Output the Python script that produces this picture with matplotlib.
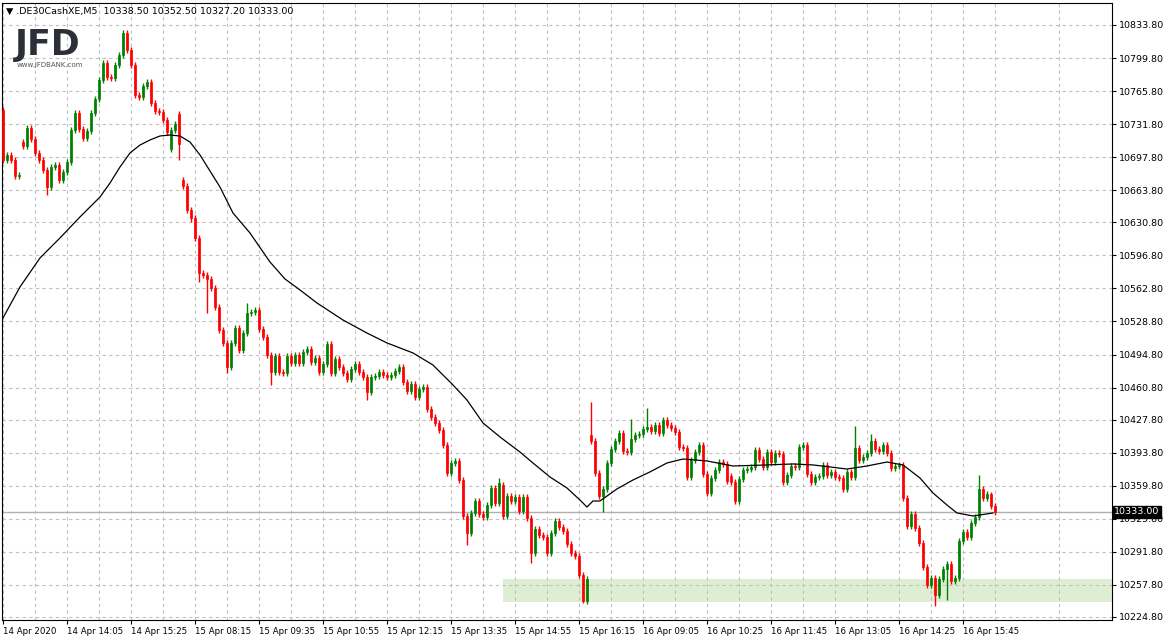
import matplotlib
matplotlib.use("Agg")
import matplotlib.pyplot as plt
from matplotlib.patches import Rectangle

# DE30 M5 closes, one per bar (open = previous close unless listed in gap_opens)
closes = [
    10694.9, 10700.1, 10694.9, 10678.4, 10679.5, 10709.3, 10727.8, 10716.5, 10702.1, 10694.9,
    10684.6, 10667.1, 10687.7, 10689.8, 10674.3, 10682.6, 10692.9, 10725.8, 10743.3, 10726.8,
    10717.5, 10724.7, 10743.3, 10757.7, 10777.2, 10794.7, 10780.3, 10779.3, 10792.6, 10802.9,
    10825.6, 10808.1, 10792.6, 10761.8, 10759.7, 10771.0, 10775.1, 10753.5, 10745.3, 10744.3,
    10736.1, 10723.7, 10725.8, 10731.9, 10711.4, 10668.2, 10643.5, 10635.2, 10614.7, 10578.7,
    10576.6, 10572.5, 10563.2, 10543.7, 10520.0, 10506.7, 10482.0, 10506.7, 10522.1, 10499.5,
    10516.9, 10537.5, 10538.5, 10540.6, 10521.1, 10512.8, 10494.3, 10476.8, 10493.3, 10476.8,
    10476.0, 10493.3, 10486.1, 10494.3, 10486.1, 10497.4, 10500.5, 10487.1, 10491.2, 10476.8,
    10485.1, 10505.6, 10475.8, 10490.2, 10482.0, 10475.8, 10469.6, 10479.9, 10485.1, 10476.8,
    10471.7, 10456.2, 10471.7, 10472.5, 10476.8, 10473.7, 10471.7, 10473.7, 10477.9, 10482.0,
    10466.5, 10457.3, 10464.5, 10451.1, 10459.3, 10461.4, 10438.8, 10430.5, 10424.4, 10417.2,
    10401.7, 10372.9, 10383.2, 10385.3, 10365.7, 10328.7, 10311.2, 10331.8, 10344.1, 10330.7,
    10327.7, 10340.0, 10357.5, 10342.1, 10362.6, 10328.7, 10349.3, 10344.1, 10348.2, 10333.8,
    10348.2, 10326.6, 10290.6, 10315.3, 10309.1, 10307.1, 10290.6, 10311.2, 10323.5, 10317.4,
    10313.3, 10299.9, 10290.6, 10287.5, 10268.0, 10241.3, 10263.9, 10405.8, 10372.9, 10349.3,
    10356.5, 10383.2, 10397.6, 10405.8, 10414.1, 10395.6, 10394.5, 10407.9, 10412.0, 10413.0,
    10418.2, 10420.2, 10416.1, 10422.3, 10414.1, 10427.4, 10422.3, 10419.2, 10415.1, 10399.7,
    10398.7, 10368.8, 10386.3, 10394.5, 10401.7, 10371.9, 10352.4, 10367.8, 10376.0, 10384.2,
    10382.2, 10364.7, 10363.7, 10344.1, 10366.8, 10376.0, 10377.0, 10379.1, 10396.6, 10387.3,
    10379.1, 10394.5, 10384.2, 10393.5, 10392.5, 10363.7, 10370.9, 10380.1, 10379.1, 10399.7,
    10401.7, 10371.9, 10363.7, 10368.8, 10369.8, 10381.2, 10370.9, 10374.0, 10368.8, 10367.8,
    10356.5, 10374.0, 10368.8, 10398.6, 10386.3, 10389.4, 10393.5, 10405.8, 10397.6, 10395.6,
    10401.7, 10393.5, 10378.1, 10380.1, 10381.2, 10347.2, 10318.4, 10330.7, 10316.3, 10300.9,
    10276.2, 10257.7, 10264.9, 10247.4, 10263.9, 10274.2, 10279.3, 10261.8, 10264.9, 10303.0,
    10312.2, 10307.1, 10321.5, 10327.7, 10356.5, 10347.2, 10351.3, 10339.0, 10333.0,
]
gap_opens = {0: 10746.3, 5: 10713.4, 42: 10706.2, 44: 10742.2, 45: 10674.3,
             125: 10360.6, 147: 10412.0, 182: 10370.0}
wick_highs = {61: 10548.0, 124: 10368.0, 147: 10446.0, 157: 10428.5, 161: 10440.0,
              165: 10430.5, 213: 10421.0, 217: 10413.0, 244: 10371.0, 247: 10353.5}
wick_lows = {11: 10659.0, 44: 10695.0, 47: 10631.0, 49: 10569.0, 51: 10538.0, 56: 10476.0,
             67: 10463.0, 91: 10448.0, 116: 10299.0, 132: 10280.0, 145: 10239.0,
             150: 10333.0, 233: 10236.0, 236: 10242.0}
wick = 3.0

# moving average
ma_bars = [0, 4.25, 9.25, 14.25, 19.25, 24.25, 26.75, 29.25, 31.75, 34.25, 36.75, 39.25,
           41.75, 44.25, 46.75, 49.25, 54.25, 57.5, 61.75, 66.75, 70.5, 74.25, 78.5, 85,
           91, 96, 102.5, 107.5, 112.5, 116, 120, 124.25, 129.25, 132.5, 136.75, 141,
           144.25, 146, 147.5, 149.25, 153.5, 157.5, 161.75, 166, 170, 176, 182.5, 191,
           197.5, 202.5, 211, 216, 221, 225, 229.25, 232.5, 236, 238.5, 242.5, 244.25, 247.5]
ma_values = [10532.4, 10564.3, 10594.1, 10614.7, 10636.3, 10656.8, 10671.2, 10687.7, 10702.1,
             10710.3, 10715.5, 10719.6, 10720.6, 10719.6, 10713.4, 10700.1, 10667.1, 10640.4,
             10619.8, 10590.0, 10572.5, 10561.2, 10547.8, 10530.3, 10516.9, 10506.7, 10496.4,
             10484.0, 10463.5, 10448.0, 10424.4, 10410.0, 10394.5, 10383.2, 10368.8, 10357.5,
             10345.1, 10337.9, 10344.1, 10344.1, 10356.5, 10365.7, 10374.0, 10383.2, 10387.3,
             10385.3, 10380.1, 10381.2, 10382.2, 10381.2, 10377.0, 10380.1, 10384.2, 10381.2,
             10367.8, 10352.4, 10340.0, 10331.8, 10328.7, 10329.7, 10331.8]

y_ticks = [10224.8, 10257.8, 10291.8, 10325.8, 10359.8, 10393.8, 10427.8, 10460.8, 10494.8,
           10528.8, 10562.8, 10596.8, 10630.8, 10663.8, 10697.8, 10731.8, 10765.8, 10799.8,
           10833.8]
x_labels = ["14 Apr 2020", "14 Apr 14:05", "14 Apr 15:25", "15 Apr 08:15", "15 Apr 09:35",
            "15 Apr 10:55", "15 Apr 12:15", "15 Apr 13:35", "15 Apr 14:55", "15 Apr 16:15",
            "16 Apr 09:05", "16 Apr 10:25", "16 Apr 11:45", "16 Apr 13:05", "16 Apr 14:25",
            "16 Apr 15:45"]
last_price = 10333.0
zone_low, zone_high = 10240.2, 10263.9
zone_start = 125

fig = plt.figure(figsize=(11.68, 6.41), dpi=100)
ax = fig.add_axes([0.0017, 0.0328, 0.9503, 0.9625])
ax.set_xlim(-0.25, 277.25)
ax.set_ylim(10221.7, 10856.4)

for i, c in enumerate(closes):
    o = gap_opens.get(i, closes[i - 1] if i > 0 else c)
    col = "#008000" if c >= o else "#ff0000"
    hi = wick_highs.get(i, max(o, c) + wick)
    lo = wick_lows.get(i, min(o, c) - wick)
    ax.vlines(i, lo, hi, color=col, lw=1, zorder=3)
    ax.add_patch(Rectangle((i - 0.35, min(o, c)), 0.7, max(abs(c - o), 0.8),
                           facecolor=col, edgecolor=col, lw=0.5, zorder=4))

ax.plot(ma_bars, ma_values, color="black", lw=0.9, zorder=5)
ax.add_patch(Rectangle((zone_start, zone_low), 277.25 - zone_start, zone_high - zone_low,
                       facecolor="#c8e3b4", alpha=0.6, edgecolor="none", zorder=1))
ax.axhline(last_price, color="#b0b0b0", lw=1, zorder=2)

ax.yaxis.tick_right()
ax.set_yticks(y_ticks)
ax.set_yticklabels([f"{v:.2f}" for v in y_ticks], fontsize=6.8)
ax.set_xticks(range(0, 256, 16))
ax.set_xticklabels(x_labels, fontsize=6.2, ha="left")
ax.set_xticks(range(8, 277, 16), minor=True)
ax.tick_params(axis="both", length=3, pad=2)
ax.tick_params(axis="x", which="minor", length=0)
ax.grid(True, which="both", color="#c0c0c0", ls=(0, (3, 3)), lw=0.8)
for s in ax.spines.values():
    s.set_color("black")

ax.text(1.002, last_price, f"{last_price:.2f}", transform=ax.get_yaxis_transform(),
        fontsize=6.8, color="white", va="center", ha="left",
        bbox=dict(boxstyle="square,pad=0.15", facecolor="black", edgecolor="black"))

ax.text(0.004, 0.994, "\u25BC .DE30CashXE,M5  10338.50 10352.50 10327.20 10333.00",
        transform=ax.transAxes, fontsize=6.8, va="top", ha="left")
ax.text(0.012, 0.96, "JFD", transform=ax.transAxes, fontsize=25, fontweight="bold",
        color="#2b3038", va="top", ha="left")
ax.text(0.013, 0.905, "www.JFDBANK.com", transform=ax.transAxes, fontsize=5,
        color="#555555", va="top", ha="left")

fig.savefig("out.png", dpi=100)
